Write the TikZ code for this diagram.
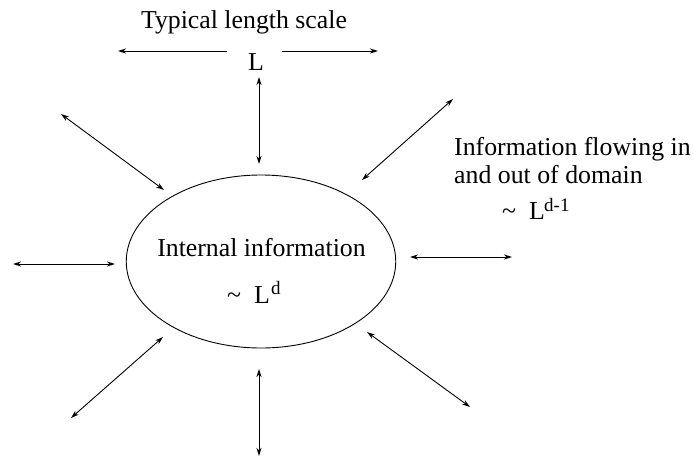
\documentclass[tikz,border=0pt]{standalone}
\usepackage{fontspec}
\setmainfont{Liberation Serif}
\usetikzlibrary{arrows.meta,shapes.geometric}
\begin{document}
\begin{tikzpicture}[x=1pt,y=-1pt,
  tip/.tip={Stealth[length=8pt,width=5pt,inset=2.5pt]},
  arr/.style={line width=0.9pt},
  lbl/.style={font=\fontsize{25.8}{28}\selectfont, inner sep=0pt},
  suplbl/.style={font=\fontsize{19}{21}\selectfont, inner sep=0pt}]
\useasboundingbox (0,0) rectangle (693,458);
% domain
\node[draw, ellipse, line width=0.9pt, minimum width=269.5pt, minimum height=173pt, inner sep=0pt] (dom) at (261,261.5) {};
% texts
\node[lbl, anchor=base] (title) at (244,28) {Typical length scale};
\node[lbl, anchor=base] (Ltop) at (256,70) {L};
\node[lbl, anchor=base west] (flowa) at (454,155) {Information flowing in};
\node[lbl, anchor=base west] (flowb) at (454,183) {and out of domain};
\node[lbl, anchor=base west] (tila) at (502,219) {\textasciitilde};
\node[lbl, anchor=base west] (La) at (529,219) {L};
\node[suplbl, anchor=base west] (supa) at (544,211) {d-1};
\node[lbl, anchor=base] (inttxt) at (261.5,256) {Internal information};
\node[lbl, anchor=base west] (tilb) at (227,303) {\textasciitilde};
\node[lbl, anchor=base west] (Lb) at (254,303) {L};
\node[suplbl, anchor=base west] (supb) at (271,294) {d};
% arrow end points
\coordinate (tla) at (227,51); \coordinate (tlb) at (118,51);
\coordinate (tra) at (282,51); \coordinate (trb) at (378,51);
\coordinate (na) at (259,77);  \coordinate (nb) at (259,164);
\coordinate (nwa) at (61,114); \coordinate (nwb) at (164,190);
\coordinate (nea) at (453,99); \coordinate (neb) at (362,180);
\coordinate (wa) at (13,264);  \coordinate (wb) at (115,264);
\coordinate (ea) at (410,257); \coordinate (eb) at (512,257);
\coordinate (swa) at (163,337); \coordinate (swb) at (71,418);
\coordinate (sea) at (367,332); \coordinate (seb) at (470,407);
\coordinate (sa) at (259,369); \coordinate (sb) at (259,456);
% arrows
\draw[arr,-tip] (tla) -- (tlb);
\draw[arr,-tip] (tra) -- (trb);
\draw[arr,tip-tip] (na) -- (nb);
\draw[arr,tip-tip] (nwa) -- (nwb);
\draw[arr,tip-tip] (nea) -- (neb);
\draw[arr,tip-tip] (wa) -- (wb);
\draw[arr,tip-tip] (ea) -- (eb);
\draw[arr,tip-tip] (swa) -- (swb);
\draw[arr,tip-tip] (sea) -- (seb);
\draw[arr,tip-tip] (sa) -- (sb);
\end{tikzpicture}
\end{document}
